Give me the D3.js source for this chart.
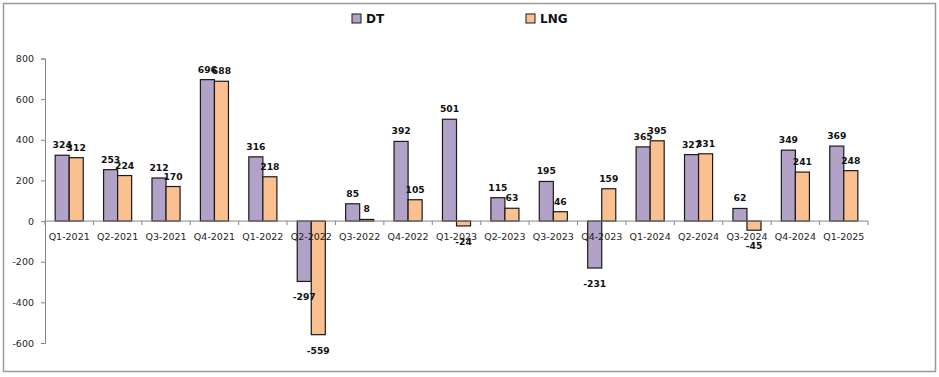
<!DOCTYPE html>
<html>
<head>
<meta charset="utf-8">
<script src="https://cdn.jsdelivr.net/npm/d3@7"></script>
<style>
  body { margin: 0; background: #fff; }
  .axis-text { font-family: "DejaVu Sans", sans-serif; font-size: 9.5px; fill: #1e1e1e; }
  .bar-label { font-family: "DejaVu Sans", sans-serif; font-size: 9.2px; font-weight: bold; fill: #111; }
</style>
</head>
<body>
<div id="chart"></div>
<script>
var categories = ["Q1-2021", "Q2-2021", "Q3-2021", "Q4-2021", "Q1-2022", "Q2-2022", "Q3-2022", "Q4-2022",
    "Q1-2023", "Q2-2023", "Q3-2023", "Q4-2023", "Q1-2024", "Q2-2024", "Q3-2024", "Q4-2024", "Q1-2025"];
var seriesNames = ["DT", "LNG"];
var dtValues = [324, 253, 212, 696, 316, -297, 85, 392, 501, 115, 195, -231, 365, 327, 62, 349, 369];
var lngValues = [312, 224, 170, 688, 218, -559, 8, 105, -24, 63, 46, 159, 395, 331, -45, 241, 248];
var yTicks = [-600, -400, -200, 0, 200, 400, 600, 800];
var colors = ["#b3a2c7", "#fac090"];

var svgWidth = 939;
var svgHeight = 377;

var svg = d3.select("#chart")
    .append("svg")
    .attr("width", svgWidth)
    .attr("height", svgHeight);

// outer frame
svg.append("rect")
    .attr("x", 3.5).attr("y", 3.5)
    .attr("width", 932).attr("height", 368)
    .attr("fill", "#fff")
    .attr("stroke", "#9a9a9a")
    .attr("stroke-width", 1.5);

var xScale = d3.scaleBand()
    .domain(categories)
    .range([45, 868])
    .paddingInner(0.42)
    .paddingOuter(0.21);

var xSub = d3.scaleBand()
    .domain(seriesNames)
    .range([0, xScale.bandwidth()]);

var yScale = d3.scaleLinear()
    .domain([-600, 800])
    .range([343, 58.5]);

var step = xScale.step();

// y axis (plain hyphen for negatives, like the original)
var yAxis = d3.axisLeft(yScale)
    .tickValues(yTicks)
    .tickFormat(function (d) { return String(d); })
    .tickSize(4)
    .tickPadding(7);
var yG = svg.append("g")
    .attr("transform", "translate(45,0)")
    .call(yAxis);
yG.select(".domain").attr("stroke", "#868686");
yG.selectAll(".tick line").attr("stroke", "#868686");
yG.selectAll(".tick text").attr("class", "axis-text").attr("font-family", null).attr("font-size", null);

var data = categories.map(function (c, i) {
    return { cat: c, values: [dtValues[i], lngValues[i]] };
});

var groups = svg.append("g").selectAll("g")
    .data(data)
    .enter()
    .append("g")
    .attr("transform", function (d) { return "translate(" + xScale(d.cat) + ",0)"; });

groups.selectAll("rect")
    .data(function (d) {
        return d.values.map(function (v, j) { return { name: seriesNames[j], value: v, idx: j }; });
    })
    .enter()
    .append("rect")
    .attr("x", function (d) { return xSub(d.name); })
    .attr("y", function (d) { return yScale(Math.max(0, d.value)); })
    .attr("width", xSub.bandwidth())
    .attr("height", function (d) { return Math.abs(yScale(d.value) - yScale(0)); })
    .attr("fill", function (d) { return colors[d.idx]; })
    .attr("stroke", "#1a1a1a")
    .attr("stroke-width", 1.2);

// x axis line and ticks at category boundaries
svg.append("line")
    .attr("x1", 45).attr("x2", 868)
    .attr("y1", yScale(0)).attr("y2", yScale(0))
    .attr("stroke", "#868686");

svg.append("g").selectAll("line")
    .data(d3.range(categories.length + 1))
    .enter()
    .append("line")
    .attr("x1", function (i) { return 45 + i * step; })
    .attr("x2", function (i) { return 45 + i * step; })
    .attr("y1", yScale(0))
    .attr("y2", yScale(0) + 4)
    .attr("stroke", "#868686");

svg.append("g").selectAll("text")
    .data(categories)
    .enter()
    .append("text")
    .attr("class", "axis-text")
    .attr("text-anchor", "middle")
    .attr("x", function (c) { return xScale(c) + xScale.bandwidth() / 2; })
    .attr("y", yScale(0) + 19)
    .text(function (c) { return c; });

// value labels
groups.selectAll("text")
    .data(function (d) {
        return d.values.map(function (v, j) { return { name: seriesNames[j], value: v }; });
    })
    .enter()
    .append("text")
    .attr("class", "bar-label")
    .attr("text-anchor", "middle")
    .attr("x", function (d) { return xSub(d.name) + xSub.bandwidth() / 2; })
    .attr("y", function (d) {
        return d.value >= 0 ? yScale(d.value) - 7 : yScale(d.value) + 19;
    })
    .text(function (d) { return d.value; });

// legend
var legend = svg.append("g").selectAll("g")
    .data(seriesNames)
    .enter()
    .append("g")
    .attr("transform", function (d, i) { return "translate(" + (352 + i * 174) + ",14)"; });

legend.append("rect")
    .attr("width", 9).attr("height", 9)
    .attr("fill", function (d, i) { return colors[i]; })
    .attr("stroke", "#1a1a1a");

legend.append("text")
    .attr("x", 14)
    .attr("y", 9)
    .attr("font-family", "DejaVu Sans, sans-serif")
    .attr("font-size", "12px")
    .attr("font-weight", "bold")
    .attr("fill", "#111")
    .text(function (d) { return d; });
</script>
</body>
</html>
